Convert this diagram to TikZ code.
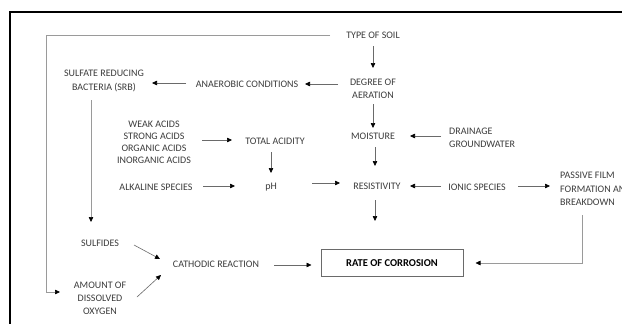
\documentclass[tikz,border=0pt]{standalone}
\usepackage{fontspec}
\setmainfont{Carlito}
\usetikzlibrary{arrows.meta}
\definecolor{txt}{HTML}{3C3C3C}
\definecolor{ln}{HTML}{6A6A6A}
\definecolor{lnlight}{HTML}{9A9A9A}
\tikzset{
  lbl/.style={text=txt, font=\fontsize{10}{13.5}\selectfont, align=center, inner sep=0pt},
  lbll/.style={lbl, align=left, anchor=west},
  arr/.style={draw=ln, line width=0.6pt, -{Triangle[length=5pt,width=4.5pt,color=black]}},
  arrl/.style={arr, draw=lnlight},
  ratebox/.style={draw=ln, line width=1pt, text=black, font=\fontsize{10.5}{12}\selectfont\bfseries, minimum width=142pt, minimum height=27pt, inner sep=0pt}
}
\begin{document}
\begin{tikzpicture}[x=1pt,y=-1pt]
\useasboundingbox (0,0) rectangle (622,324);
\fill[white] (0,0) rectangle (622,324);
\draw[line width=2pt, black] (10,330) -- (10,12) -- (630,12);

\node[lbl] (soil) at (373,35) {TYPE OF SOIL};
\node[lbl] (deg) at (373,89) {DEGREE OF\\AERATION};
\node[lbl] (anaer) at (247,84) {ANAEROBIC CONDITIONS};
\node[lbl] (srb) at (104,81) {SULFATE REDUCING\\BACTERIA (SRB)};
\node[lbl] (moist) at (373,136) {MOISTURE};
\node[lbll] (drain) at (449,138) {DRAINAGE\\GROUNDWATER};
\node[lbl, font=\fontsize{10}{12}\selectfont] (acids) at (154,142) {WEAK ACIDS\\STRONG ACIDS\\ORGANIC ACIDS\\INORGANIC ACIDS};
\node[lbl] (totac) at (275,141) {TOTAL ACIDITY};
\node[lbl] (ph) at (271,187) {pH};
\node[lbl] (alk) at (156,187) {ALKALINE SPECIES};
\node[lbl] (resist) at (377,186) {RESISTIVITY};
\node[lbl] (ionic) at (477,187) {IONIC SPECIES};
\node[lbll] (passive) at (560,189) {PASSIVE FILM\\FORMATION AND\\BREAKDOWN};
\node[ratebox] (rate) at (392,263) {RATE OF CORROSION};
\node[lbl] (cath) at (216,264) {CATHODIC REACTION};
\node[lbl] (sulf) at (100,243) {SULFIDES};
\node[lbl, font=\fontsize{10}{13}\selectfont] (oxy) at (100,298) {AMOUNT OF\\DISSOLVED\\OXYGEN};

\draw[arr] ([yshift=-11pt]soil.center) -- ([yshift=21pt]deg.center);
\draw[arr] ([xshift=-35pt,yshift=5pt]deg.center) -- ([xshift=58pt]anaer.center);
\draw[arr] ([xshift=-61pt,yshift=1pt]anaer.center) -- ([xshift=48pt,yshift=-2pt]srb.center);
\draw[arr] ([yshift=-15pt]deg.center) -- ([yshift=8pt]moist.center);
\draw[arr] ([xshift=-8pt,yshift=2pt]drain.west) -- ([xshift=37pt]moist.center);
\draw[arr] ([xshift=48pt,yshift=2pt]acids.center) -- ([xshift=-43pt,yshift=1pt]totac.center);
\draw[arr] ([xshift=-4pt,yshift=-11pt]totac.center) -- ([yshift=14pt]ph.center);
\draw[arr] ([xshift=47pt,yshift=1pt]alk.center) -- ([xshift=-36pt,yshift=1pt]ph.center);
\draw[arr] ([xshift=41pt,yshift=4pt]ph.center) -- ([xshift=-37pt,yshift=3pt]resist.center);
\draw[arr] ([xshift=2pt,yshift=-11pt]moist.center) -- ([xshift=-2pt,yshift=20pt]resist.center);
\draw[arr] ([xshift=-36pt,yshift=1pt]ionic.center) -- ([xshift=33pt]resist.center);
\draw[arr] ([xshift=41pt,yshift=1pt]ionic.center) -- ([xshift=-10pt,yshift=3pt]passive.west);
\draw[arr] ([xshift=-2pt,yshift=-14pt]resist.center) -- ([xshift=-17pt,yshift=28pt]rate.north);
\draw[arrl] ([xshift=22pt,yshift=-26pt]passive.west) |- ([xshift=12pt]rate.east);
\draw[arr] ([xshift=58pt,yshift=-1pt]cath.center) -- ([xshift=-9pt,yshift=-2pt]rate.west);
\draw[arrl] ([xshift=-13pt,yshift=-19pt]srb.center) -- ([xshift=-9pt,yshift=21pt]sulf.center);
\draw[arr] ([xshift=34pt,yshift=-2pt]sulf.center) -- ([xshift=-56pt,yshift=5pt]cath.center);
\draw[arr] ([xshift=37pt,yshift=1pt]oxy.center) -- ([xshift=-55pt,yshift=-11pt]cath.center);
\draw[arrl] ([xshift=-43pt]soil.center) -- ++(-284,0) |- ([xshift=-40pt,yshift=6pt]oxy.center);
\end{tikzpicture}
\end{document}
